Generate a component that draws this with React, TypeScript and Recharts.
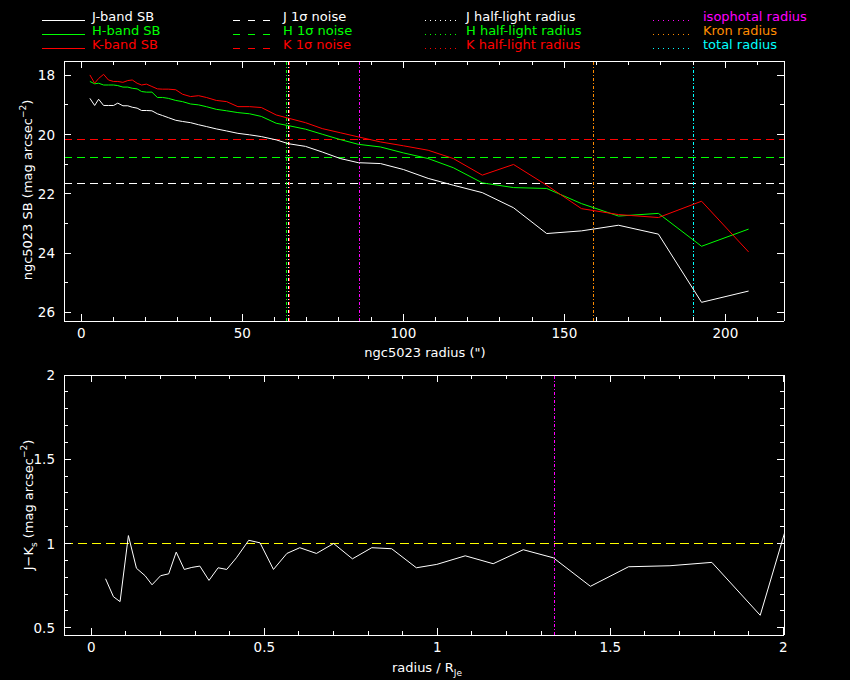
import { Line, LineChart, ReferenceLine, XAxis, YAxis } from "recharts";

// radii (arcsec) of the profile annuli
const radius = [
  2.64, 4.12, 5.35, 6.9, 8.4, 10.0, 11.3, 12.9, 14.4, 15.8, 17.3, 18.7, 20.2, 21.9, 23.6,
  25.2, 27.0, 29.3, 31.4, 33.9, 36.4, 38.8, 41.9, 45.1, 48.6, 52.2, 55.9, 60.5, 64.3, 69.6,
  74.8, 80.4, 86.0, 92.9, 100.0, 107.7, 115.5, 124.5, 134.2, 144.5, 155.3, 166.8, 179.2,
  192.6, 207.2,
];

const jSB = [
  18.78, 19.02, 18.81, 19.02, 19.02, 19.02, 18.94, 19.03, 19.03, 19.08, 19.11, 19.19, 19.19,
  19.2, 19.3, 19.36, 19.43, 19.52, 19.56, 19.6, 19.67, 19.73, 19.81, 19.88, 19.96, 20.01,
  20.07, 20.18, 20.31, 20.4, 20.59, 20.81, 20.95, 20.98, 21.18, 21.48, 21.71, 21.96, 22.47,
  23.34, 23.25, 23.06, 23.36, 25.66, 25.28,
];

const hSB = [
  18.21, 18.29, 18.27, 18.33, 18.33, 18.33, 18.35, 18.4, 18.4, 18.44, 18.46, 18.55, 18.57,
  18.57, 18.75, 18.75, 18.78, 18.85, 18.89, 18.97, 19.0, 19.06, 19.15, 19.2, 19.26, 19.3,
  19.39, 19.62, 19.7, 19.82, 19.99, 20.17, 20.33, 20.42, 20.62, 20.81, 21.12, 21.63, 21.79,
  21.82, 22.33, 22.75, 22.66, 23.77, 23.19,
];

const kSB = [
  17.99, 18.27, 18.11, 17.97, 18.16, 18.21, 18.21, 18.24, 18.18, 18.16, 18.27, 18.33, 18.3,
  18.38, 18.46, 18.47, 18.47, 18.49, 18.64, 18.72, 18.69, 18.75, 18.85, 18.89, 19.06, 19.06,
  19.09, 19.34, 19.45, 19.6, 19.8, 19.94, 20.08, 20.25, 20.38, 20.53, 20.81, 21.37, 21.01,
  21.71, 22.5, 22.7, 22.8, 22.25, 23.96,
];

// J-Ks colour profile, same annuli (the rest falls off the right edge)
const jMinusK = [
  0.791, 0.684, 0.655, 1.047, 0.853, 0.809, 0.755, 0.809, 0.82, 0.949, 0.846, 0.858, 0.866,
  0.781, 0.856, 0.846, 0.915, 1.019, 1.004, 0.846, 0.941, 0.975, 0.941, 1.0, 0.909, 0.975,
  0.969, 0.856, 0.876, 0.927, 0.88, 0.963, 0.915, 0.746, 0.862, 0.868, 0.888, 0.574, 1.62,
];

const noise = [
  { band: "J", value: 21.64, color: "#ffffff" },
  { band: "H", value: 20.78, color: "#00ff00" },
  { band: "K", value: 20.17, color: "#ff0000" },
];

const radii = [
  { name: "J half-light radius", value: 64.4, color: "#ffffff" },
  { name: "H half-light radius", value: 63.7, color: "#00ff00" },
  { name: "K half-light radius", value: 64.6, color: "#ff0000" },
  { name: "isophotal radius", value: 86.3, color: "#ff00ff" },
  { name: "Kron radius", value: 159.0, color: "#ff8c00" },
  { name: "total radius", value: 190.1, color: "#00ffff" },
];

const rJe = 64.4;
const colourRef = 1.0;

const radiusTicks = [0, 10, 20, 30, 40, 50, 60, 70, 80, 90, 100, 110, 120, 130, 140, 150, 160, 170, 180, 190, 200, 210];
const sbTicks = [18, 19, 20, 21, 22, 23, 24, 25, 26];
const ratioTicks = [0, 0.1, 0.2, 0.3, 0.4, 0.5, 0.6, 0.7, 0.8, 0.9, 1, 1.1, 1.2, 1.3, 1.4, 1.5, 1.6, 1.7, 1.8, 1.9, 2];
const colourTicks = [0.5, 0.6, 0.7, 0.8, 0.9, 1, 1.1, 1.2, 1.3, 1.4, 1.5, 1.6, 1.7, 1.8, 1.9, 2];

const FONT = "DejaVu Sans";
const W = 850;

const sbData = radius.map((r, i) => ({ r, j: jSB[i], h: hSB[i], k: kSB[i] }));
const colourData = jMinusK.map((c, i) => ({ x: radius[i] / rJe, c }));

// inward PGPLOT-style ticks; label only on major ones
function makeTick(side: "b" | "t" | "l" | "r", major: (v: number) => boolean, labels: boolean) {
  return (props: any) => {
    const { x, y, payload } = props;
    const v = payload.value as number;
    const len = major(v) ? 7 : 4;
    let line;
    if (side === "b") line = <line x1={x} x2={x} y1={y} y2={y - len} stroke="#fff" shapeRendering="crispEdges" />;
    else if (side === "t") line = <line x1={x} x2={x} y1={y} y2={y + len} stroke="#fff" shapeRendering="crispEdges" />;
    else if (side === "l") line = <line x1={x} x2={x + len} y1={y} y2={y} stroke="#fff" shapeRendering="crispEdges" />;
    else line = <line x1={x} x2={x - len} y1={y} y2={y} stroke="#fff" shapeRendering="crispEdges" />;
    let text = null;
    if (labels && major(v)) {
      const s = String(Math.round(v * 10) / 10);
      if (side === "b")
        text = (
          <text x={x} y={y + 17} textAnchor="middle" fill="#fff" fontSize={13.5} fontFamily={FONT}>
            {s}
          </text>
        );
      else if (side === "l")
        text = (
          <text x={x - 9} y={y + 5} textAnchor="end" fill="#fff" fontSize={13.5} fontFamily={FONT}>
            {s}
          </text>
        );
    }
    return (
      <g>
        {line}
        {text}
      </g>
    );
  };
}

const isMult = (step: number) => (v: number) => Math.abs(v / step - Math.round(v / step)) < 1e-6;

const axisCommon = {
  interval: 0 as const,
  tickSize: 0,
  tickMargin: 0,
  axisLine: { stroke: "#fff", shapeRendering: "crispEdges" },
  tickLine: false,
  allowDataOverflow: true,
};

function SBPanel() {
  return (
    <LineChart width={W} height={345} data={sbData} margin={{ top: 60, right: 65, left: 63, bottom: 23 }}>
      <XAxis xAxisId="b" type="number" dataKey="r" domain={[-5.4, 218.2]} ticks={radiusTicks} height={1}
        {...axisCommon} tick={makeTick("b", isMult(50), true)} />
      <XAxis xAxisId="t" orientation="top" type="number" dataKey="r" domain={[-5.4, 218.2]} ticks={radiusTicks}
        height={1} {...axisCommon} tick={makeTick("t", isMult(50), false)} />
      <YAxis yAxisId="l" type="number" domain={[17.52, 26.29]} reversed ticks={sbTicks} width={1}
        {...axisCommon} tick={makeTick("l", isMult(2), true)} />
      <YAxis yAxisId="r" orientation="right" type="number" domain={[17.52, 26.29]} reversed ticks={sbTicks}
        width={1} {...axisCommon} tick={makeTick("r", isMult(2), false)} />
      {noise.map((n) => (
        <ReferenceLine key={n.band} xAxisId="b" yAxisId="l" y={n.value} stroke={n.color} strokeDasharray="8 5"
          shapeRendering="crispEdges" />
      ))}
      {radii.map((d) => (
        <ReferenceLine key={d.name} xAxisId="b" yAxisId="l" x={d.value} stroke={d.color} strokeDasharray="3 2 1 2"
          shapeRendering="crispEdges" />
      ))}
      <Line xAxisId="b" yAxisId="l" type="linear" dataKey="j" stroke="#ffffff" strokeWidth={1} dot={false} isAnimationActive={false} />
      <Line xAxisId="b" yAxisId="l" type="linear" dataKey="h" stroke="#00ff00" strokeWidth={1} dot={false} isAnimationActive={false} />
      <Line xAxisId="b" yAxisId="l" type="linear" dataKey="k" stroke="#ff0000" strokeWidth={1} dot={false} isAnimationActive={false} />
    </LineChart>
  );
}

function ColourPanel() {
  return (
    <LineChart width={W} height={335} data={colourData} margin={{ top: 29, right: 65, left: 63, bottom: 44 }}>
      <XAxis xAxisId="b" type="number" dataKey="x" domain={[-0.079, 2.002]} ticks={ratioTicks} height={1}
        {...axisCommon} tick={makeTick("b", isMult(0.5), true)} />
      <XAxis xAxisId="t" orientation="top" type="number" dataKey="x" domain={[-0.079, 2.002]} ticks={ratioTicks}
        height={1} {...axisCommon} tick={makeTick("t", isMult(0.5), false)} />
      <YAxis yAxisId="l" type="number" domain={[0.457, 2]} ticks={colourTicks} width={1}
        {...axisCommon} tick={makeTick("l", isMult(0.5), true)} />
      <YAxis yAxisId="r" orientation="right" type="number" domain={[0.457, 2]} ticks={colourTicks} width={1}
        {...axisCommon} tick={makeTick("r", isMult(0.5), false)} />
      <ReferenceLine xAxisId="b" yAxisId="l" y={colourRef} stroke="#ffff00" strokeDasharray="9 5"
        shapeRendering="crispEdges" />
      <ReferenceLine xAxisId="b" yAxisId="l" x={radii[3].value / rJe} stroke={radii[3].color} strokeDasharray="3 2 1 2"
        shapeRendering="crispEdges" />
      <Line xAxisId="b" yAxisId="l" type="linear" dataKey="c" stroke="#ffffff" strokeWidth={1} dot={false} isAnimationActive={false} />
    </LineChart>
  );
}

const legendRows = [0, 1, 2];
const sbColors = ["#ffffff", "#00ff00", "#ff0000"];
const bands = ["J", "H", "K"];

function Labels() {
  const t = { fill: "#fff", fontSize: 13, fontFamily: FONT } as const;
  const lg = { fontSize: 13, fontFamily: FONT } as const;
  return (
    <svg width={W} height={680} style={{ position: "absolute", left: 0, top: 0, pointerEvents: "none" }}>
      {legendRows.map((i) => {
        const base = 21 + i * 14;
        const extra = radii[3 + i];
        return (
          <g key={i} shapeRendering="crispEdges">
            <line x1={42} x2={85} y1={base - 1} y2={base - 1} stroke={sbColors[i]} />
            <text x={92} y={base} fill={sbColors[i]} {...lg}>{bands[i]}-band SB</text>
            <line x1={233} x2={276} y1={base - 1} y2={base - 1} stroke={sbColors[i]} strokeDasharray="7 8" />
            <text x={283} y={base} fill={sbColors[i]} {...lg}>{bands[i]} 1σ noise</text>
            <line x1={425} x2={456} y1={base - 1} y2={base - 1} stroke={radii[i].color} strokeDasharray="1 4" />
            <text x={466} y={base} fill={radii[i].color} {...lg}>{radii[i].name}</text>
            <line x1={653} x2={693} y1={base - 1} y2={base - 1} stroke={extra.color} strokeDasharray="1 4" />
            <text x={703} y={base} fill={extra.color} {...lg}>{extra.name}</text>
          </g>
        );
      })}
      <text x={425} y={357} textAnchor="middle" {...t}>ngc5023 radius (")</text>
      <text x={32} y={190} textAnchor="middle" transform="rotate(-90 32 190)" {...t}>
        ngc5023 SB (mag arcsec<tspan dy={-6} fontSize={9}>−2</tspan><tspan dy={6}>)</tspan>
      </text>
      <text x={427} y={672} textAnchor="middle" {...t}>
        radius / R<tspan dy={4} fontSize={9}>Je</tspan>
      </text>
      <text x={33} y={505} textAnchor="middle" transform="rotate(-90 33 505)" {...t}>
        J−K<tspan dy={4} fontSize={9}>s</tspan><tspan dy={-4}> (mag arcsec</tspan>
        <tspan dy={-6} fontSize={9}>−2</tspan><tspan dy={6}>)</tspan>
      </text>
    </svg>
  );
}

export default function App() {
  return (
    <div style={{ position: "fixed", left: 0, top: 0, width: W, height: 680, background: "#000", overflow: "hidden" }}>
      <div style={{ position: "absolute", left: 0, top: 0 }}>
        <SBPanel />
      </div>
      <div style={{ position: "absolute", left: 0, top: 345 }}>
        <ColourPanel />
      </div>
      <Labels />
    </div>
  );
}
